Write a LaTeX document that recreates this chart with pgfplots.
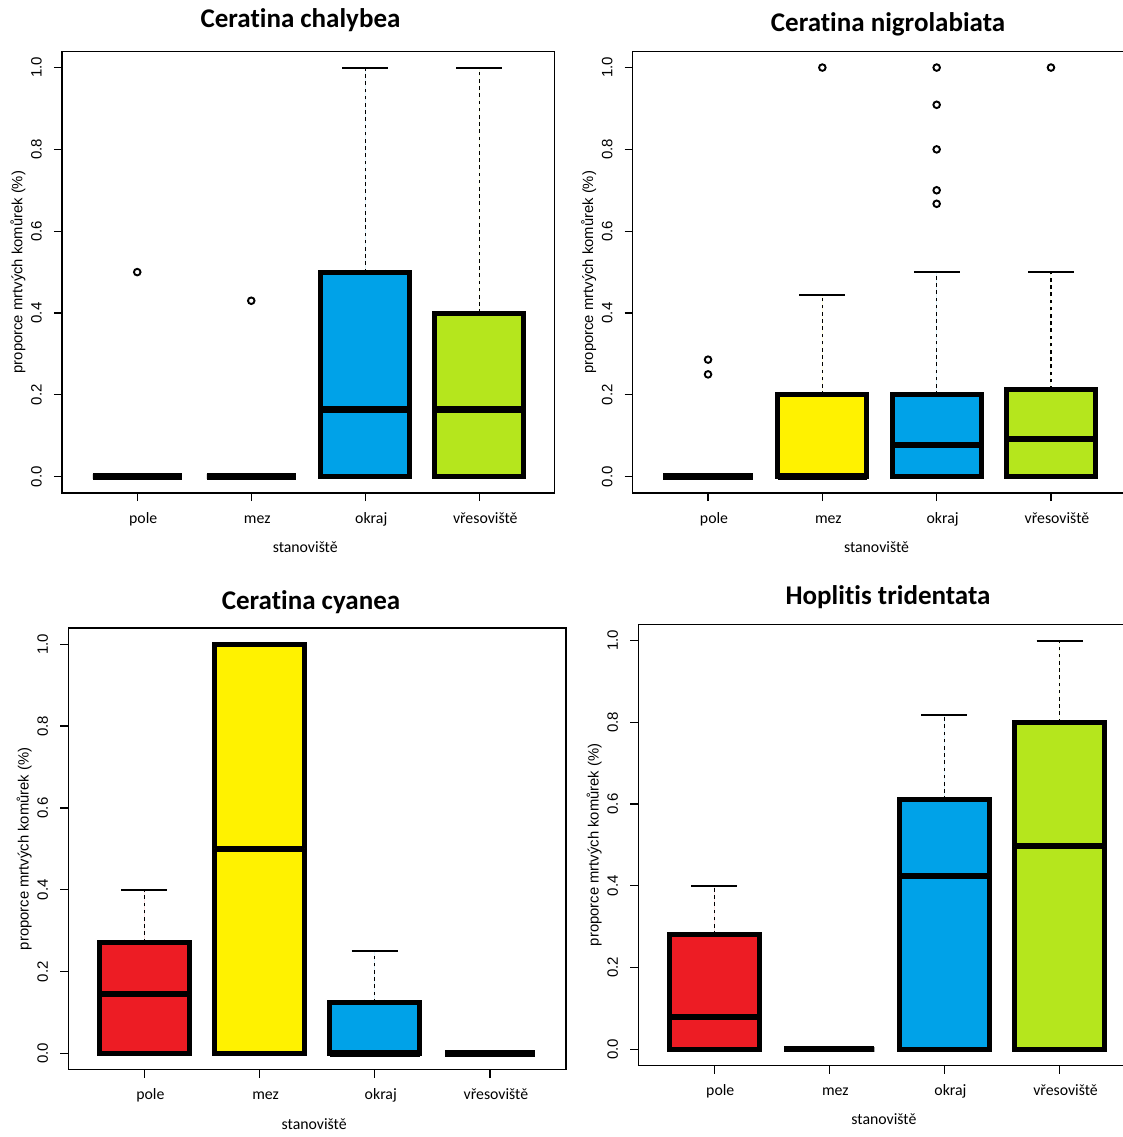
\documentclass[border=0pt]{standalone}
\usepackage{pgfplots}
\pgfplotsset{compat=1.18}
\usepgfplotslibrary{statistics}
\usepackage{fontspec}
\setmainfont{Liberation Sans}
\newfontfamily\calfont[Ligatures={NoCommon,NoContextual}, Contextuals=NoAlternate]{Carlito}
\definecolor{pred}{RGB}{237,28,36}
\definecolor{pyellow}{RGB}{255,242,0}
\definecolor{pblue}{RGB}{0,162,232}
\definecolor{pgreen}{RGB}{181,230,29}

\pgfplotsset{
  rbox/.style={
    scale only axis,
    xmin=0.34, xmax=4.66, ymin=-0.04, ymax=1.04,
    axis line style={line width=1.3pt, black},
    xtick={1,2,3,4},
    xticklabels={pole,mez,okraj,vřesoviště},
    ytick={0,0.2,0.4,0.6,0.8,1},
    yticklabels={0.0,0.2,0.4,0.6,0.8,1.0},
    xtick pos=left, ytick pos=left,
    tick align=outside,
    major tick length=8pt,
    tick style={line width=1.3pt, black},
    yticklabel style={font=\fontsize{15}{18}\selectfont, rotate=90, anchor=center, yshift=17.5pt},
    xticklabel style={font=\calfont\fontsize{15.8}{19}\selectfont, anchor=base, xshift=6pt, yshift=-22pt},
    xlabel={stanoviště},
    ylabel={proporce mrtvých komůrek (\%)},
    xlabel style={font=\calfont\fontsize{15.8}{19}\selectfont, at={(axis description cs:0.5,0)}, anchor=center, yshift=-54pt, xshift=-3pt},
    ylabel style={font=\fontsize{14.8}{18}\selectfont, at={(axis description cs:0,0.5)}, anchor=center, yshift=44pt},
    boxplot/draw direction=y,
    boxplot/box extend=0.78,
    boxplot/whisker extend=0.4,
    boxplot/every box/.style={line width=5pt, line join=miter},
    boxplot/every median/.style={line width=6.5pt},
    boxplot/draw/whisker/.code 2 args={
      \draw[line width=1.3pt, dash pattern=on 3.6pt off 3.6pt] (boxplot box cs:##1,0.5) -- (boxplot box cs:##2,0.5);
      \draw[line width=2pt, solid] (boxplot whisker cs:##2,0) -- (boxplot whisker cs:##2,1);
    },
  },
  bx/.style={draw=black, fill=#1, mark=o, mark size=3.3pt, mark options={solid, draw=black, line width=1.9pt, fill=none}},
}

\begin{document}
\begin{tikzpicture}
\path[use as bounding box] (0,0) rectangle (1122pt,-1137pt);

% ---------------- Ceratina chalybea ----------------
\begin{axis}[rbox, at={(62pt,-493pt)}, anchor=south west, width=492.5pt, height=441.8pt]
\addplot[bx=white, boxplot prepared={draw position=1, lower whisker=0, lower quartile=0, median=0, upper quartile=0, upper whisker=0}]
  table[row sep=\\, y index=0] {data\\ 0.5\\};
\addplot[bx=white, boxplot prepared={draw position=2, lower whisker=0, lower quartile=0, median=0, upper quartile=0, upper whisker=0}]
  table[row sep=\\, y index=0] {data\\ 0.43\\};
\addplot[bx=pblue, boxplot prepared={draw position=3, lower whisker=0, lower quartile=0, median=0.164, upper quartile=0.5, upper whisker=1}]
  coordinates {};
\addplot[bx=pgreen, boxplot prepared={draw position=4, lower whisker=0, lower quartile=0, median=0.164, upper quartile=0.4, upper whisker=1}]
  coordinates {};
\end{axis}
\node[font=\calfont\bfseries\fontsize{27}{32}\selectfont] at (300.5pt,-19.7pt) {Ceratina chalybea};

% ---------------- Ceratina nigrolabiata ----------------
\begin{axis}[rbox, at={(632.6pt,-493pt)}, anchor=south west, width=493.8pt, height=441.8pt]
\addplot[bx=white, boxplot prepared={draw position=1, lower whisker=0, lower quartile=0, median=0, upper quartile=0, upper whisker=0}]
  table[row sep=\\, y index=0] {data\\ 0.286\\ 0.25\\};
\addplot[bx=pyellow, boxplot prepared={draw position=2, lower whisker=0, lower quartile=0, median=0, upper quartile=0.2, upper whisker=0.444}]
  table[row sep=\\, y index=0] {data\\ 1\\};
\addplot[bx=pblue, boxplot prepared={draw position=3, lower whisker=0, lower quartile=0, median=0.077, upper quartile=0.2, upper whisker=0.5}]
  table[row sep=\\, y index=0] {data\\ 1\\ 0.909\\ 0.8\\ 0.7\\ 0.667\\};
\addplot[bx=pgreen, boxplot prepared={draw position=4, lower whisker=0, lower quartile=0, median=0.092, upper quartile=0.213, upper whisker=0.5}]
  table[row sep=\\, y index=0] {data\\ 1\\};
\end{axis}
\node[font=\calfont\bfseries\fontsize{27}{32}\selectfont] at (888pt,-24.3pt) {Ceratina nigrolabiata};

% ---------------- Ceratina cyanea ----------------
\begin{axis}[rbox, at={(68.3pt,-1069.8pt)}, anchor=south west, width=497.7pt, height=441.9pt]
\addplot[bx=pred, boxplot prepared={draw position=1, lower whisker=0, lower quartile=0, median=0.145, upper quartile=0.272, upper whisker=0.4}]
  coordinates {};
\addplot[bx=pyellow, boxplot prepared={draw position=2, lower whisker=0, lower quartile=0, median=0.5, upper quartile=1, upper whisker=1}]
  coordinates {};
\addplot[bx=pblue, boxplot prepared={draw position=3, lower whisker=0, lower quartile=0, median=0, upper quartile=0.125, upper whisker=0.25}]
  coordinates {};
\addplot[bx=white, boxplot prepared={draw position=4, lower whisker=0, lower quartile=0, median=0, upper quartile=0, upper whisker=0}]
  coordinates {};
\end{axis}
\node[font=\calfont\bfseries\fontsize{27}{32}\selectfont] at (311pt,-601.8pt) {Ceratina cyanea};

% ---------------- Hoplitis tridentata ----------------
\begin{axis}[rbox, at={(638.3pt,-1065.5pt)}, anchor=south west, width=497.2pt, height=441.3pt]
\addplot[bx=pred, boxplot prepared={draw position=1, lower whisker=0, lower quartile=0, median=0.079, upper quartile=0.28, upper whisker=0.4}]
  coordinates {};
\addplot[bx=white, boxplot prepared={draw position=2, lower whisker=0, lower quartile=0, median=0, upper quartile=0, upper whisker=0}]
  coordinates {};
\addplot[bx=pblue, boxplot prepared={draw position=3, lower whisker=0, lower quartile=0, median=0.424, upper quartile=0.61, upper whisker=0.818}]
  coordinates {};
\addplot[bx=pgreen, boxplot prepared={draw position=4, lower whisker=0, lower quartile=0, median=0.497, upper quartile=0.8, upper whisker=1}]
  coordinates {};
\end{axis}
\node[font=\calfont\bfseries\fontsize{27}{32}\selectfont] at (888pt,-597pt) {Hoplitis tridentata};
\end{tikzpicture}
\end{document}
